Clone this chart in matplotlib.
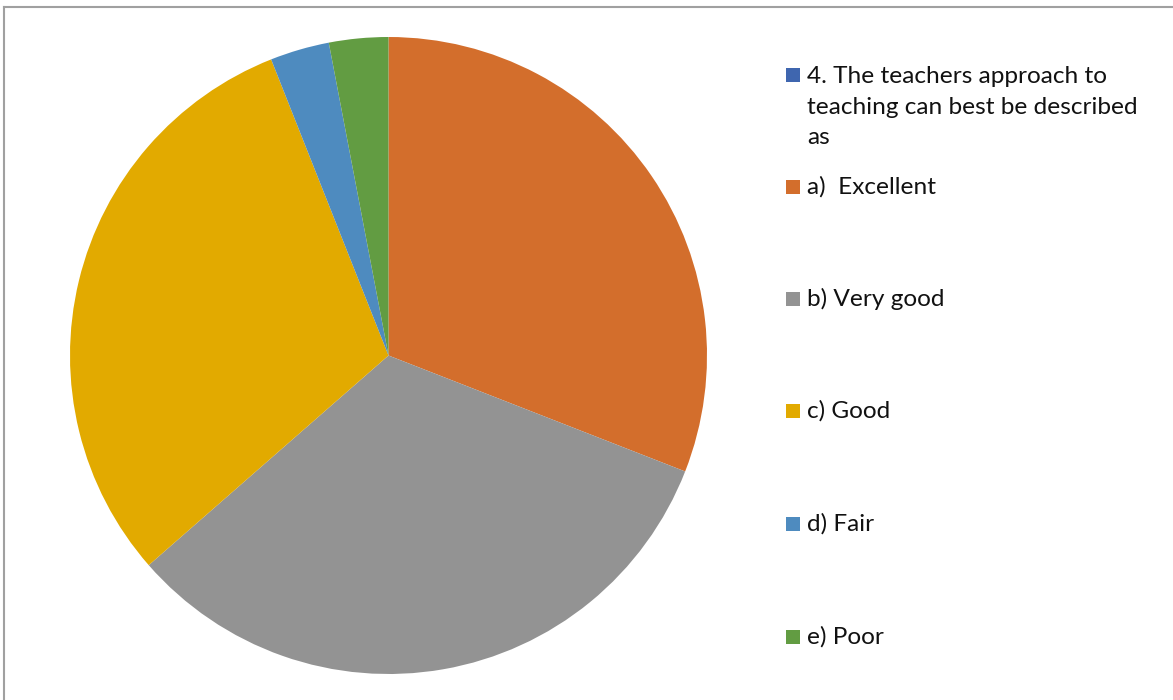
import matplotlib.pyplot as plt
from matplotlib.patches import Rectangle
from matplotlib.lines import Line2D

plt.rcParams['font.family'] = ['Lato', 'DejaVu Sans']

# 问卷第4题：教师教学方式评价（百分比）
labels = ['a)  Excellent', 'b) Very good', 'c) Good', 'd) Fair', 'e) Poor']
shares = [30.9, 32.6, 30.4, 3.0, 3.0]
colors = ['#D36E2C', '#939393', '#E2AA00', '#4E8BBF', '#629C42']
series_title = '4. The teachers approach to\nteaching can best be described\nas'
series_color = '#3F66AF'

W, H = 1173, 700
fig = plt.figure(figsize=(W / 100, H / 100), dpi=100)

# 饼图区域（像素换算成figure比例）
cx, cy, r = 388.5, 355.5, 318.5
ax = fig.add_axes([(cx - r) / W, (H - cy - r) / H, 2 * r / W, 2 * r / H])
ax.pie(shares, colors=colors, startangle=90, counterclock=False,
       radius=1, wedgeprops=dict(linewidth=0))
ax.set_xlim(-1, 1)
ax.set_ylim(-1, 1)
ax.set_aspect('equal')
ax.axis('off')

# 外框
fig.add_artist(Line2D([4 / W, 4 / W], [0, 1 - 7 / H], transform=fig.transFigure,
                      color='#A0A0A0', lw=1.5))
fig.add_artist(Line2D([4 / W, 1], [1 - 7 / H, 1 - 7 / H], transform=fig.transFigure,
                      color='#A0A0A0', lw=1.5))

# 图例（手动绘制，多行标题的方块对齐第一行）
sq = 14
fs = 17.6

def legend_square(y, col):
    fig.add_artist(Rectangle((786 / W, (H - y - sq / 2) / H), sq / W, sq / H,
                             transform=fig.transFigure, color=col, lw=0))

legend_square(75, series_color)
fig.text(807 / W, (H - 107) / H, series_title, fontsize=fs, va='center',
         ha='left', color='#111111', linespacing=1.58)

ys = [187, 299, 411, 524, 637]
for lab, col, y in zip(labels, colors, ys):
    legend_square(y, col)
    fig.text(807 / W, (H - y) / H, lab, fontsize=fs, va='center',
             ha='left', color='#111111')

fig.savefig('out.png', dpi=100)
